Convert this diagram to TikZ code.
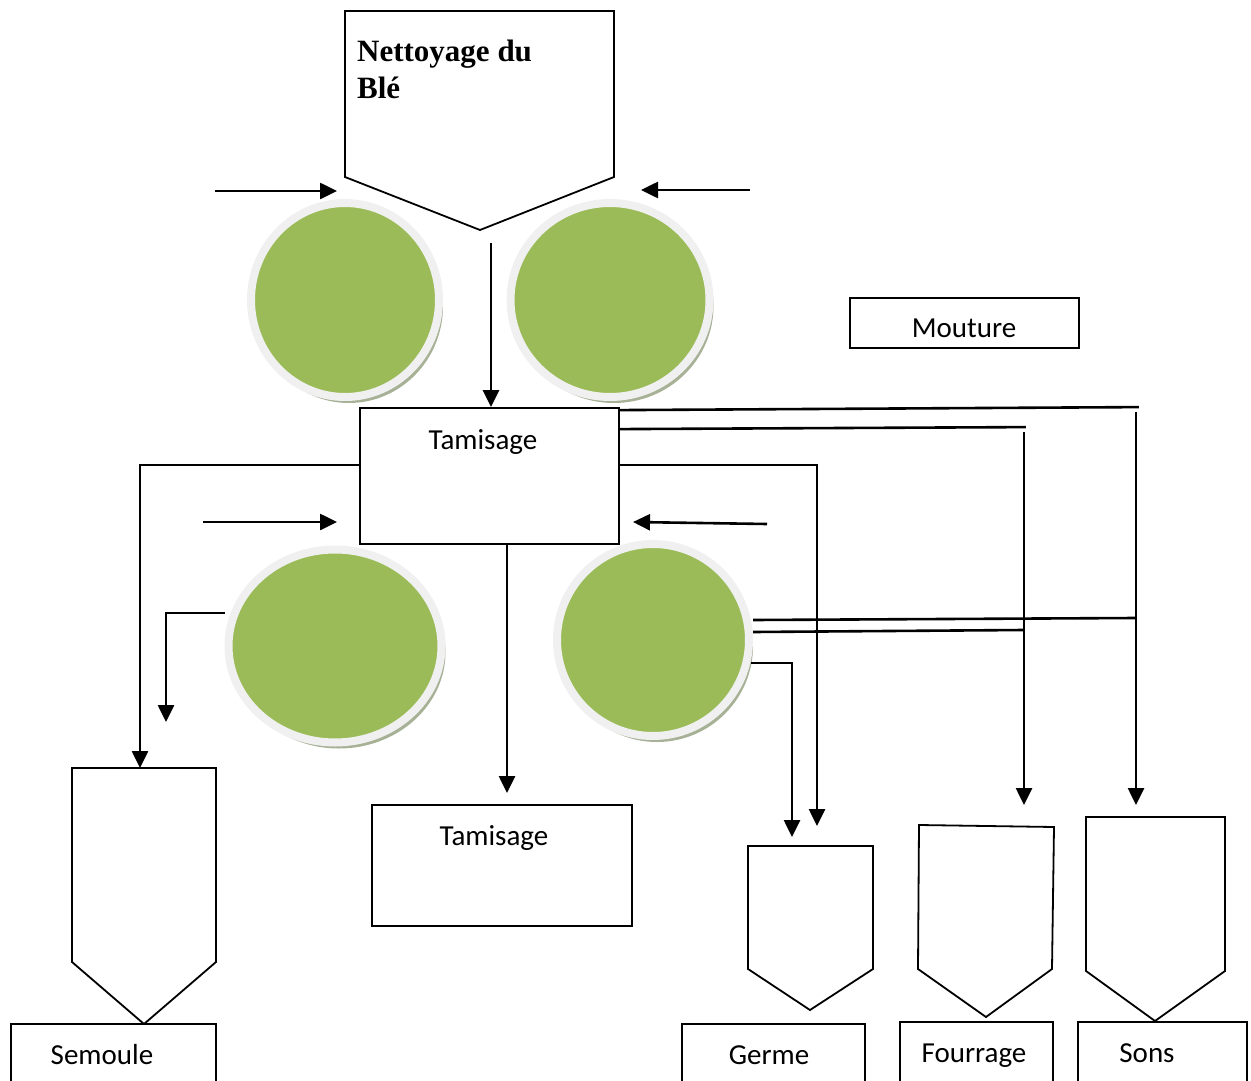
\documentclass[tikz,border=0pt]{standalone}
\usepackage{fontspec}
\setmainfont{Carlito}
\newfontfamily\titlefont{Liberation Serif}
\usetikzlibrary{positioning,shapes.geometric,arrows.meta,shadows}
\definecolor{rollgreen}{HTML}{9BBB59}
\definecolor{rollrim}{HTML}{F0F0F0}
\definecolor{rollshade}{HTML}{A7B196}

\tikzset{
  box/.style={draw,line width=1.8pt,inner sep=0pt},
  txt/.style={inner sep=0pt,font=\fontsize{29}{34}\selectfont},
  roller/.style={ellipse,fill=rollgreen,draw=rollrim,line width=8pt,inner sep=0pt,
    drop shadow={shadow xshift=4pt,shadow yshift=-6pt,fill=rollshade,opacity=1}},
  flow/.style={line width=2.6pt,-{Triangle[length=17pt,width=16pt]}},
  wire/.style={line width=2.6pt}
}

\begin{document}
\begin{tikzpicture}[x=1pt,y=-1pt]
  \useasboundingbox (0,0) rectangle (1251,1081);
  \clip (0,0) rectangle (1251,1081);

  %hoppers
  \draw[box] (345,11) -- (614,11) -- (614,177) -- (480,230) -- (345,177) -- cycle;
  \draw[box] (72,768) -- (216,768) -- (216,962) -- (144,1024) -- (72,962) -- cycle;
  \draw[box] (748,846) -- (873,846) -- (873,969) -- (810,1010) -- (748,969) -- cycle;
  \draw[box] (919,825) -- (1054,827) -- (1052,969) -- (986,1017) -- (918,969) -- cycle;
  \draw[box] (1086,817) -- (1225,817) -- (1225,971) -- (1155,1021) -- (1086,971) -- cycle;
  \node[anchor=north west,align=left,inner sep=0pt,font=\titlefont\bfseries\fontsize{31}{37}\selectfont] (net) at (357,40) {Nettoyage du\\Blé};

  %rollers
  \node[roller,minimum width=188pt,minimum height=194pt] (r1) at (345,300) {};
  \node[roller,minimum width=199pt,minimum height=194pt] (r2) at (610,300) {};
  \node[roller,minimum width=213pt,minimum height=193pt] (r3) at (335,646) {};
  \node[roller,minimum width=192pt,minimum height=192pt] (r4) at (653,640) {};

  %boxes
  \node[box,minimum width=259pt,minimum height=136pt] (t1) at (489.5,476) {};
  \node[box,minimum width=260pt,minimum height=121pt] (t2) at (502,865.5) {};
  \node[box,minimum width=229pt,minimum height=50pt] (mou) at (964.5,323) {};
  \node[box,minimum width=205pt,minimum height=90pt] (sem) at (113.5,1069) {};
  \node[box,minimum width=183pt,minimum height=90pt] (ger) at (773.5,1069) {};
  \node[box,minimum width=153pt,minimum height=90pt] (fou) at (976.5,1067) {};
  \node[box,minimum width=169pt,minimum height=90pt] (son) at (1162.5,1067) {};

  \node[txt,anchor=base] at (483,449) {Tamisage};
  \node[txt,anchor=base] at (494,845) {Tamisage};
  \node[txt,anchor=base] at (964,337) {Mouture};
  \node[txt,anchor=base] at (102,1064) {Semoule};
  \node[txt,anchor=base] at (769,1064) {Germe};
  \node[txt,anchor=base] at (974,1062) {Fourrage};
  \node[txt,anchor=base] at (1147,1062) {Sons};

  %free ends
  \coordinate (f1) at (215,191);
  \coordinate (f2) at (750,190);
  \coordinate (f3) at (203,522);
  \coordinate (f4) at (767,524);
  \coordinate (semin) at (140,768);
  \coordinate (r3out) at (166,722);
  \coordinate (t2in) at (507,793);
  \coordinate (gerin1) at (792,837);
  \coordinate (gerin2) at (817,826);
  \coordinate (fouin) at (1024,805);
  \coordinate (sonin) at (1136,805);

  %feed
  \draw[flow] (f1) -- (f1 -| 337,0);
  \draw[flow] (f2) -- (f2 -| 641,0);
  \draw[flow] (f3) -- (f3 -| 337,0);
  \draw[flow] (f4) -- (633,522);
  \draw[flow] (491,243) -- (t1.north -| 491,0);

  %t1 out
  \draw[wire] ([yshift=-3]t1.north east) -- ++(519,-3);
  \draw[flow] (sonin |- 0,412) -- (sonin);
  \draw[wire] ([yshift=-22]t1.north east) -- ++(406,-2);
  \draw[flow] (fouin |- 0,432) -- (fouin);
  \draw[flow] (t1.east |- 0,465) -| (gerin2);
  \draw[flow] (t1.west |- 0,465) -| (semin);
  \draw[flow] (t1.south -| t2in) -- (t2in);

  %r3, r4 out
  \draw[flow] ([yshift=33]r3.west) -| (r3out);
  \draw[wire] ([yshift=20]r4.east) -- (sonin |- 0,618);
  \draw[wire] ([yshift=8]r4.east) -- (fouin |- 0,630);
  \draw[flow] ([shift={(-2,23)}]r4.east) -| (gerin1);
\end{tikzpicture}
\end{document}
